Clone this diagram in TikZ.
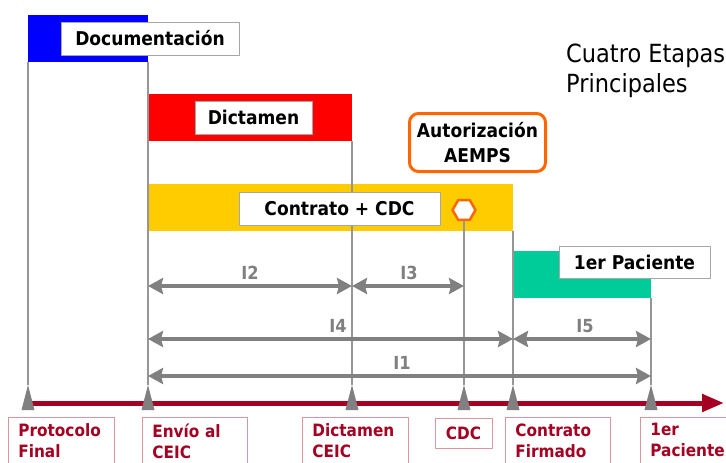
\documentclass[tikz,border=0pt]{standalone}
\usepackage{fontspec}
\setmainfont{DejaVu Sans}[FakeStretch=0.9]
\usetikzlibrary{arrows.meta,shapes.geometric}
\definecolor{tlred}{RGB}{165,0,33}
\definecolor{tlgray}{RGB}{128,128,128}
\definecolor{guiagray}{RGB}{150,150,150}
\definecolor{boxpink}{RGB}{215,150,160}
\definecolor{aemps}{RGB}{255,102,0}
\definecolor{ambar}{RGB}{255,204,0}
\definecolor{verde}{RGB}{0,204,153}
\begin{document}
\begin{tikzpicture}[x=1pt,y=-1pt,line join=round,
	etapa/.style={draw=gray!70,fill=white,line width=0.8pt,inner sep=0pt,font=\fontsize{19}{23}\selectfont\bfseries},
	hito/.style={draw=boxpink,line width=0.8pt,anchor=north west,align=left,text=tlred,inner xsep=10pt,inner ysep=6pt,font=\fontsize{17}{21}\selectfont\bfseries},
	guia/.style={guiagray,line width=1.2pt},
	intervalo/.style={tlgray,line width=4pt,{Stealth[length=15pt,width=16pt,inset=2pt]}-{Stealth[length=15pt,width=16pt,inset=2pt]}},
	ilabel/.style={text=tlgray,inner sep=0pt,font=\fontsize{18}{20}\selectfont\bfseries}]
	\useasboundingbox (0,0) rectangle (726,463);
	\foreach \x/\n in {28/tPF,148/tEnv,352/tDic,464/tCDC,513/tCon,651/tPac}
		\coordinate (\n) at (\x,385);
	% barras
	\fill[blue] (28,15) rectangle (148,62);
	\fill[red] (148,94) rectangle (352,141);
	\fill[ambar] (147,184) rectangle (513,231);
	\fill[verde] (513,251) rectangle (651,298);
	\draw[guia] (28,62) -- (tPF);
	\draw[guia] (148,62) -- (tEnv);
	\draw[guia] (352,141) -- (tDic);
	\draw[guia] (513,231) -- (tCon);
	\draw[guia] (651,298) -- (tPac);
	\node[etapa,minimum width=178pt,minimum height=33pt] (doc) at (150,38.5) {Documentación};
	\node[etapa,minimum width=117pt,minimum height=33pt] (dict) at (253.5,117.5) {Dictamen};
	\node[etapa,minimum width=201pt,minimum height=33pt] (contr) at (339.5,208.5) {Contrato + CDC};
	\node[etapa,minimum width=151pt,minimum height=32pt] (paci) at (634.5,262) {1er Paciente};
	\node[draw=aemps,line width=3pt,rounded corners=9pt,align=center,minimum width=136pt,minimum height=58pt,
		font=\fontsize{19}{25}\selectfont\bfseries] (aut) at (477.5,142.5) {Autorización\\AEMPS};
	\node[regular polygon,regular polygon sides=6,draw=aemps,fill=white,line width=2.5pt,minimum size=23pt,inner sep=0pt] (hex) at (464,210) {};
	\draw[guia] (hex.south) -- (tCDC);
	\node[anchor=north west,inner sep=0pt,align=left,font=\fontsize{25}{30}\selectfont] (titulo) at (566,44) {Cuatro Etapas\\Principales};
	% intervalos
	\draw[intervalo] (tEnv |- 0,286) -- (tDic |- 0,286);
	\draw[intervalo] (tDic |- 0,286) -- (tCDC |- 0,286);
	\draw[intervalo] (tEnv |- 0,339) -- (tCon |- 0,339);
	\draw[intervalo] (tCon |- 0,339) -- (tPac |- 0,339);
	\draw[intervalo] (tEnv |- 0,376) -- (tPac |- 0,376);
	\node[ilabel] (i2) at (250,273) {I2};
	\node[ilabel] (i3) at (409,273) {I3};
	\node[ilabel] (i4) at (338,326) {I4};
	\node[ilabel] (i5) at (585,326) {I5};
	\node[ilabel] (i1) at (402,363) {I1};
	% eje
	\draw[tlred,line width=5pt,-{Triangle[length=22pt,width=17pt]}] (30,403) -- (724,403);
	\foreach \n in {tPF,tEnv,tDic,tCDC,tCon,tPac}
		\fill[tlgray] (\n) -- ([xshift=6.5pt,yshift=-25pt]\n) -- ([xshift=-6.5pt,yshift=-25pt]\n) -- cycle;
	\node[hito,text width=86pt] (pf) at (8,417) {Protocolo\\Final};
	\node[hito,text width=85pt] (env) at (142,417) {Envío al\\CEIC};
	\node[hito,text width=86pt] (dic) at (302,417) {Dictamen\\CEIC};
	\node[hito,anchor=center,inner sep=0pt,minimum width=57pt,minimum height=30pt] (cdc) at (463.5,433) {CDC};
	\node[hito,text width=85pt] (con) at (505,417) {Contrato\\Firmado};
	\node[hito,text width=86pt] (pac) at (640,417) {1er\\Paciente};
\end{tikzpicture}
\end{document}
